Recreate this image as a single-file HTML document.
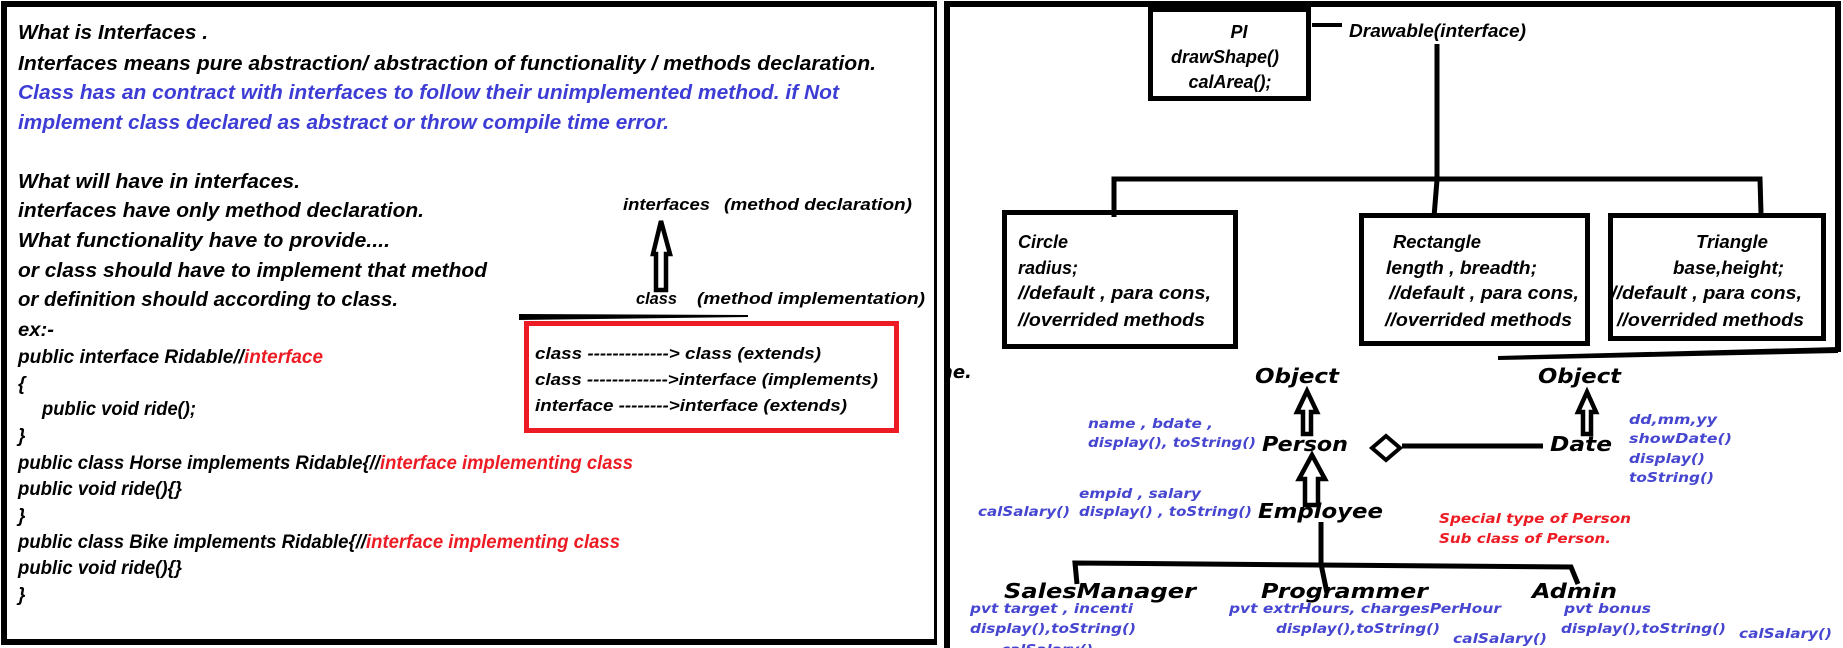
<!DOCTYPE html>
<html><head><meta charset="utf-8"><style>
html,body{margin:0;padding:0;background:#fff;}
svg{display:block;}
.t{font-family:"Liberation Sans",sans-serif;font-style:italic;font-weight:bold;font-size:20px;fill:#000;}
.c{font-family:"Liberation Sans",sans-serif;font-style:italic;font-weight:bold;font-size:19px;fill:#000;}
.b{fill:#3d3dd6;}
.r{fill:#ed1c24;}
.bx{font-family:"Liberation Sans",sans-serif;font-style:italic;font-weight:bold;font-size:18px;fill:#000;}
.v{font-family:"DejaVu Sans",sans-serif;font-style:oblique;font-weight:bold;font-size:20px;fill:#000;}
.s{font-family:"DejaVu Sans",sans-serif;font-style:oblique;font-weight:bold;font-size:13px;fill:#4646d0;}
.sr{font-family:"DejaVu Sans",sans-serif;font-style:oblique;font-weight:bold;font-size:13px;fill:#ed1c24;}
</style></head><body>
<svg width="1843" height="648" viewBox="0 0 1843 648" xmlns="http://www.w3.org/2000/svg">
<!-- left panel -->
<rect x="4" y="4" width="933" height="638" fill="none" stroke="#000" stroke-width="6"/>
<g class="t">
<text x="18" y="39" textLength="190" lengthAdjust="spacingAndGlyphs">What is Interfaces .</text>
<text x="18" y="70" textLength="858" lengthAdjust="spacingAndGlyphs">Interfaces means pure abstraction/ abstraction of functionality / methods declaration.</text>
<text x="18" y="99" class="t b" textLength="821" lengthAdjust="spacingAndGlyphs">Class has an contract with interfaces to follow their unimplemented method. if Not</text>
<text x="18" y="129" class="t b" textLength="651" lengthAdjust="spacingAndGlyphs">implement class declared as abstract or throw compile time error.</text>
<text x="18" y="188" textLength="282" lengthAdjust="spacingAndGlyphs">What will have in interfaces.</text>
<text x="18" y="217" textLength="406" lengthAdjust="spacingAndGlyphs">interfaces have only method declaration.</text>
<text x="18" y="247" textLength="372" lengthAdjust="spacingAndGlyphs">What functionality have to provide....</text>
<text x="18" y="277" textLength="469" lengthAdjust="spacingAndGlyphs">or class should have to implement that method</text>
<text x="18" y="306" textLength="380" lengthAdjust="spacingAndGlyphs">or definition should according to class.</text>
</g>
<g class="c">
<text x="18" y="336" textLength="36" lengthAdjust="spacingAndGlyphs">ex:-</text>
<text x="18" y="363" textLength="226" lengthAdjust="spacingAndGlyphs">public interface Ridable//</text>
<text x="244" y="363" class="c r" textLength="79" lengthAdjust="spacingAndGlyphs">interface</text>
<text x="18" y="390">{</text>
<text x="42" y="415" textLength="154" lengthAdjust="spacingAndGlyphs">public void ride();</text>
<text x="18" y="442">}</text>
<text x="18" y="469" textLength="362" lengthAdjust="spacingAndGlyphs">public class Horse implements Ridable{//</text>
<text x="380" y="469" class="c r" textLength="253" lengthAdjust="spacingAndGlyphs">interface implementing class</text>
<text x="18" y="495" textLength="164" lengthAdjust="spacingAndGlyphs">public void ride(){}</text>
<text x="18" y="522">}</text>
<text x="18" y="548" textLength="348" lengthAdjust="spacingAndGlyphs">public class Bike implements Ridable{//</text>
<text x="366" y="548" class="c r" textLength="254" lengthAdjust="spacingAndGlyphs">interface implementing class</text>
<text x="18" y="574" textLength="164" lengthAdjust="spacingAndGlyphs">public void ride(){}</text>
<text x="18" y="601">}</text>
</g>
<g class="c" style="font-size:17px">
<text x="623" y="210" textLength="87" lengthAdjust="spacingAndGlyphs">interfaces</text>
<text x="724" y="210" textLength="188" lengthAdjust="spacingAndGlyphs">(method declaration)</text>
<text x="636" y="304" textLength="41" lengthAdjust="spacingAndGlyphs">class</text>
<text x="697" y="304" textLength="228" lengthAdjust="spacingAndGlyphs">(method implementation)</text>
</g>
<polygon points="661,221 653,254 656,254 656,290 666,290 666,254 670,254" fill="#fff" stroke="#000" stroke-width="4.5"/>
<polygon points="519,314 748,315 748,317 519,320" fill="#000"/>
<rect x="526.5" y="323.5" width="370" height="107" fill="none" stroke="#ed1c24" stroke-width="5"/>
<g class="c" style="font-size:17px">
<text x="535" y="359" textLength="286" lengthAdjust="spacingAndGlyphs">class -------------&gt; class   (extends)</text>
<text x="535" y="385" textLength="343" lengthAdjust="spacingAndGlyphs">class -------------&gt;interface (implements)</text>
<text x="535" y="411" textLength="312" lengthAdjust="spacingAndGlyphs">interface --------&gt;interface (extends)</text>
</g>

<!-- right panel -->
<text class="v" x="940" y="378" style="font-size:18px">ne.</text>
<rect x="937" y="0" width="7" height="648" fill="#fff"/>
<path d="M947,648 L947,4 L1838,4 L1838,352" fill="none" stroke="#000" stroke-width="6"/>
<polygon points="1498,356 1838,347 1838,353 1498,360" fill="#000"/>
<rect x="1150.5" y="9.5" width="158" height="89" fill="none" stroke="#000" stroke-width="5"/>
<g class="bx" text-anchor="middle">
<text x="1239" y="38">PI</text>
<text x="1225" y="63">drawShape()</text>
<text x="1230" y="88">calArea();</text>
</g>
<line x1="1312" y1="25" x2="1342" y2="25" stroke="#000" stroke-width="4"/>
<text class="bx" x="1349" y="37" textLength="177" lengthAdjust="spacingAndGlyphs">Drawable(interface)</text>
<path d="M1437,44 L1437,180 L1434,217" fill="none" stroke="#000" stroke-width="5"/>
<path d="M1114,217 L1114,179 L1760,179 L1761,213" fill="none" stroke="#000" stroke-width="5"/>
<rect x="1004.5" y="212.5" width="231" height="134" fill="none" stroke="#000" stroke-width="5"/>
<rect x="1361.5" y="215.5" width="226" height="128" fill="none" stroke="#000" stroke-width="5"/>
<rect x="1610.5" y="215.5" width="213" height="123" fill="none" stroke="#000" stroke-width="5"/>
<g class="bx">
<text x="1018" y="248">Circle</text>
<text x="1018" y="274">radius;</text>
<text x="1018" y="299" textLength="193" lengthAdjust="spacingAndGlyphs">//default , para cons,</text>
<text x="1018" y="326" textLength="187" lengthAdjust="spacingAndGlyphs">//overrided methods</text>
<text x="1393" y="248" textLength="88" lengthAdjust="spacingAndGlyphs">Rectangle</text>
<text x="1386" y="274" textLength="151" lengthAdjust="spacingAndGlyphs">length , breadth;</text>
<text x="1389" y="299" textLength="190" lengthAdjust="spacingAndGlyphs">//default , para cons,</text>
<text x="1385" y="326" textLength="187" lengthAdjust="spacingAndGlyphs">//overrided methods</text>
<text x="1696" y="248" textLength="72" lengthAdjust="spacingAndGlyphs">Triangle</text>
<text x="1673" y="274" textLength="111" lengthAdjust="spacingAndGlyphs">base,height;</text>
<text x="1611" y="299" textLength="191" lengthAdjust="spacingAndGlyphs">//default , para cons,</text>
<text x="1617" y="326" textLength="187" lengthAdjust="spacingAndGlyphs">//overrided methods</text>
</g>

<g class="v">
<text x="1255" y="383" textLength="84" lengthAdjust="spacingAndGlyphs">Object</text>
<text x="1538" y="383" textLength="83" lengthAdjust="spacingAndGlyphs">Object</text>
<text x="1262" y="451" textLength="86" lengthAdjust="spacingAndGlyphs">Person</text>
<text x="1550" y="451" textLength="62" lengthAdjust="spacingAndGlyphs">Date</text>
<text x="1258" y="518" textLength="125" lengthAdjust="spacingAndGlyphs">Employee</text>
<text x="1004" y="598" textLength="192" lengthAdjust="spacingAndGlyphs">SalesManager</text>
<text x="1261" y="598" textLength="167" lengthAdjust="spacingAndGlyphs">Programmer</text>
<text x="1532" y="598" textLength="85" lengthAdjust="spacingAndGlyphs">Admin</text>
</g>
<polygon points="1307,391 1297,412 1303,412 1303,434 1311,434 1311,412 1317,412" fill="#fff" stroke="#000" stroke-width="4.5"/>
<polygon points="1587,392 1578,412 1583,412 1583,434 1591,434 1591,412 1596,412" fill="#fff" stroke="#000" stroke-width="4.5"/>
<polygon points="1312,455 1299,479 1305,479 1305,505 1318,505 1318,479 1325,479" fill="#fff" stroke="#000" stroke-width="4.5"/>
<polygon points="1386,436 1372,448 1386,460 1400,448" fill="#fff" stroke="#000" stroke-width="4"/>
<line x1="1402" y1="446" x2="1543" y2="446" stroke="#000" stroke-width="5"/>
<path d="M1321,522 L1321,564" fill="none" stroke="#000" stroke-width="5"/>
<path d="M1077,584 L1075,563 L1571,567 L1578,584" fill="none" stroke="#000" stroke-width="5"/>
<path d="M1321,564 L1327,593" fill="none" stroke="#000" stroke-width="5"/>

<g class="s">
<text x="1088" y="428" textLength="125" lengthAdjust="spacingAndGlyphs">name , bdate ,</text>
<text x="1088" y="447" textLength="168" lengthAdjust="spacingAndGlyphs">display(), toString()</text>
<text x="1079" y="498" textLength="122" lengthAdjust="spacingAndGlyphs">empid , salary</text>
<text x="978" y="516" textLength="92" lengthAdjust="spacingAndGlyphs">calSalary()</text>
<text x="1079" y="516" textLength="173" lengthAdjust="spacingAndGlyphs">display() , toString()</text>
<text x="1629" y="424" textLength="88" lengthAdjust="spacingAndGlyphs">dd,mm,yy</text>
<text x="1629" y="443" textLength="103" lengthAdjust="spacingAndGlyphs">showDate()</text>
<text x="1629" y="463" textLength="76" lengthAdjust="spacingAndGlyphs">display()</text>
<text x="1629" y="482" textLength="85" lengthAdjust="spacingAndGlyphs">toString()</text>
<text x="970" y="613" textLength="163" lengthAdjust="spacingAndGlyphs">pvt target , incenti</text>
<text x="970" y="633" textLength="166" lengthAdjust="spacingAndGlyphs">display(),toString()</text>
<text x="1001" y="654" textLength="92" lengthAdjust="spacingAndGlyphs">calSalary()</text>
<text x="1229" y="613" textLength="272" lengthAdjust="spacingAndGlyphs">pvt extrHours, chargesPerHour</text>
<text x="1276" y="633" textLength="164" lengthAdjust="spacingAndGlyphs">display(),toString()</text>
<text x="1453" y="643" textLength="94" lengthAdjust="spacingAndGlyphs">calSalary()</text>
<text x="1564" y="613" textLength="87" lengthAdjust="spacingAndGlyphs">pvt bonus</text>
<text x="1561" y="633" textLength="165" lengthAdjust="spacingAndGlyphs">display(),toString()</text>
<text x="1739" y="638" textLength="93" lengthAdjust="spacingAndGlyphs">calSalary()</text>
</g>
<g class="sr">
<text x="1439" y="523" textLength="192" lengthAdjust="spacingAndGlyphs">Special type of Person</text>
<text x="1439" y="543" textLength="172" lengthAdjust="spacingAndGlyphs">Sub class of Person.</text>
</g>
</svg>
</body></html>
